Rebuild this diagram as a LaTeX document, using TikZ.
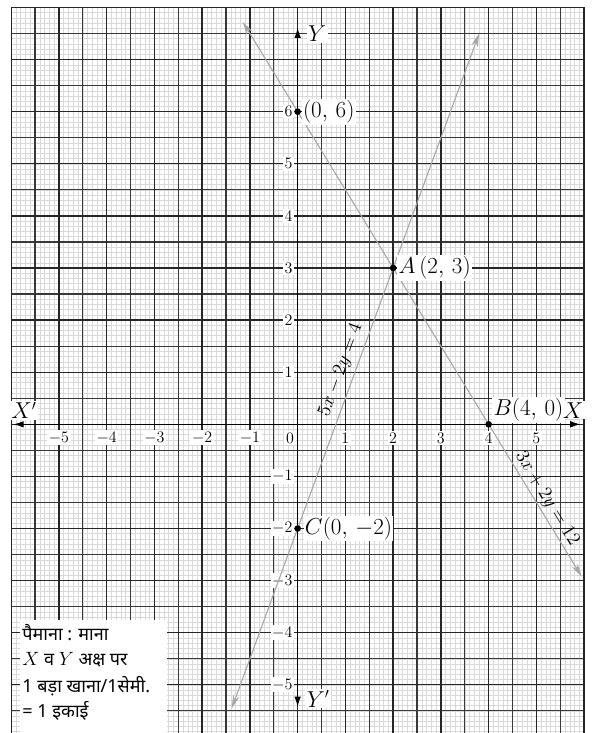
\documentclass[tikz,border=0pt]{standalone}
\usepackage{fontspec}
\usetikzlibrary{arrows.meta}
\newfontfamily\hindi[Script=Devanagari]{Noto Sans}
\begin{document}
\begin{tikzpicture}[x=35.81pt, y=39.075pt, >={Latex[length=8pt,width=5pt]},
    tick/.style={fill=white, inner sep=1.2pt, font=\fontsize{12}{12}\selectfont},
    ptlbl/.style={fill=white, inner sep=1pt, font=\fontsize{16}{16}\selectfont},
    pt/.style={circle, fill=black, inner sep=0pt, minimum size=5pt},
    graphline/.style={gray!70, line width=0.8pt, {Stealth[length=10pt,width=5pt]}-{Stealth[length=10pt,width=5pt]}},
    hindiline/.style={anchor=west, inner sep=0pt, font=\hindi\fontsize{13.5}{13.5}\selectfont}]
  \useasboundingbox (-6.234,-5.925) rectangle (6.163,8.144);
  \draw[gray!30, line width=0.4pt] (-6,-6) grid[step=0.1] (6,8);
  \draw[black!78, line width=0.9pt] (-6,-6) grid[step=0.5] (6,8);
  \draw[black!85, line width=1pt] (-6,-6) grid[step=1] (6,8);
  \draw[black!85, line width=1pt] (-6,-6) rectangle (6,8);
  \fill[white] (-5.82,-6) rectangle (-2.74,-3.76);

  \coordinate (xl) at (-5.96,0);
  \coordinate (xr) at (5.93,0);
  \coordinate (yt) at (0,7.62);
  \coordinate (yb) at (0,-5.43);
  \draw[<->, line width=1.2pt] (xl) -- (xr);
  \draw[<->, line width=1.2pt] (yb) -- (yt);

  \foreach \k in {-5,...,-1,1,2,...,5}
    \node[tick] (xt\k) at (\k,-0.26) {$\k$};
  \node[tick] (xt0) at (-0.16,-0.26) {$0$};
  \foreach \k in {-5,...,-1,1,2,...,6}
    \node[tick, anchor=east] (yt\k) at (-0.07,\k) {$\k$};

  \coordinate (p1) at (-1.15,7.725);
  \coordinate (p2) at (5.95,-2.925);
  \coordinate (q1) at (-1.38,-5.45);
  \coordinate (q2) at (3.8,7.5);
  \draw[graphline] (p1) -- (p2);
  \draw[graphline] (q1) -- (q2);
  \node[font=\fontsize{14}{14}\selectfont, rotate=-58.6, inner sep=0pt] (l1) at (5.22,-1.43) {$3x+2y=12$};
  \node[font=\fontsize{14}{14}\selectfont, rotate=69.9, inner sep=0pt] (l2) at (0.91,1.04) {$5x-2y=4$};

  \node[pt] (P) at (0,6) {};
  \node[pt] (A) at (2,3) {};
  \node[pt] (B) at (4,0) {};
  \node[pt] (C) at (0,-2) {};
  \node[ptlbl, anchor=west] (Plbl) at (0.08,6) {$(0,\,6)$};
  \node[ptlbl, anchor=west] (Albl) at (2.08,3) {$A\,(2,\,3)$};
  \node[ptlbl, anchor=west] (Blbl) at (4.07,0.27) {$B(4,\,0)$};
  \node[ptlbl, anchor=west] (Clbl) at (0.12,-2) {$C(0,\,-2)$};

  \node[ptlbl] (Xp) at (-5.73,0.27) {$X'$};
  \node[ptlbl] (X) at (5.77,0.27) {$X$};
  \node[ptlbl] (Y) at (0.41,7.49) {$Y$};
  \node[ptlbl] (Yp) at (0.43,-5.27) {$Y'$};

  \node[hindiline] (s1) at (-5.77,-4.0) {पैमाना : माना};
  \node[hindiline] (s2) at (-5.77,-4.52) {$X$ व $Y$ अक्ष पर};
  \node[hindiline] (s3) at (-5.77,-5.02) {1 बड़ा खाना/1सेमी.};
  \node[hindiline] (s4) at (-5.77,-5.5) {= 1 इकाई};
\end{tikzpicture}
\end{document}
